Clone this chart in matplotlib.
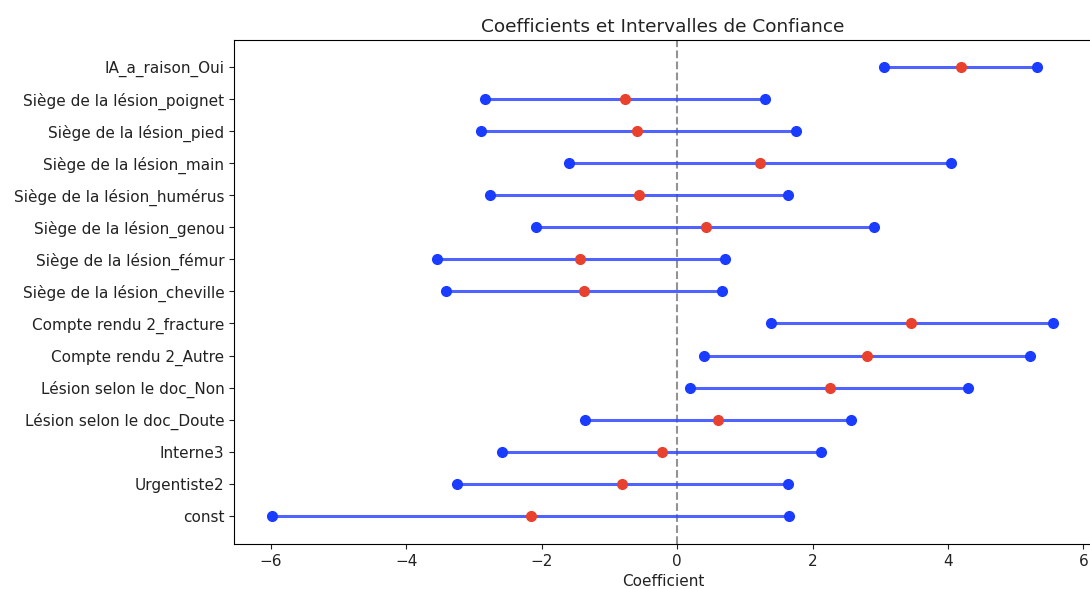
import matplotlib
matplotlib.use("Agg")
import matplotlib.pyplot as plt

# Variables (bottom to top as drawn on the y axis)
variables = ["const", "Urgentiste2", "Interne3", "Lésion selon le doc_Doute",
             "Lésion selon le doc_Non", "Compte rendu 2_Autre",
             "Compte rendu 2_fracture", "Siège de la lésion_cheville",
             "Siège de la lésion_fémur", "Siège de la lésion_genou",
             "Siège de la lésion_humérus", "Siège de la lésion_main",
             "Siège de la lésion_pied", "Siège de la lésion_poignet",
             "IA_a_raison_Oui"]
coef = [-2.16, -0.81, -0.22, 0.60, 2.26, 2.80, 3.46, -1.38, -1.43, 0.42,
        -0.57, 1.23, -0.59, -0.77, 4.19]
ci_low = [-5.99, -3.25, -2.58, -1.36, 0.19, 0.40, 1.39, -3.42, -3.55, -2.09,
          -2.77, -1.59, -2.90, -2.84, 3.05]
ci_high = [1.66, 1.64, 2.13, 2.57, 4.30, 5.21, 5.55, 0.66, 0.71, 2.91,
           1.64, 4.05, 1.76, 1.30, 5.32]

fig = plt.figure(figsize=(10.9, 5.89), dpi=100)
ax = fig.add_axes([0.2147, 0.0764, 0.7872, 0.855])

for i, name in enumerate(variables):
    ax.plot([ci_low[i], ci_high[i]], [i, i], color="#3048ff", alpha=0.85,
            linewidth=2.2, zorder=2)
    ax.plot([ci_low[i], ci_high[i]], [i, i], "o", color="#1a3cff",
            markersize=7, zorder=3)
    ax.plot(coef[i], i, "o", color="#e8412e", markersize=7, zorder=4)

ax.axvline(0, color="grey", alpha=0.85, linestyle="--", linewidth=1.5,
           zorder=1)

ax.set_yticks(range(len(variables)))
ax.set_yticklabels(variables)
ax.set_ylim(-0.87, len(variables) - 1 + 0.82)
ax.set_xlim(-6.546, 6.13)
ax.set_xticks([-6, -4, -2, 0, 2, 4, 6])
ax.tick_params(labelsize=11, colors="#222222")
ax.set_xlabel("Coefficient", fontsize=11, color="#222222")
ax.set_title("Coefficients et Intervalles de Confiance", fontsize=13.3,
             color="#222222")

fig.savefig("out.png", dpi=100)
